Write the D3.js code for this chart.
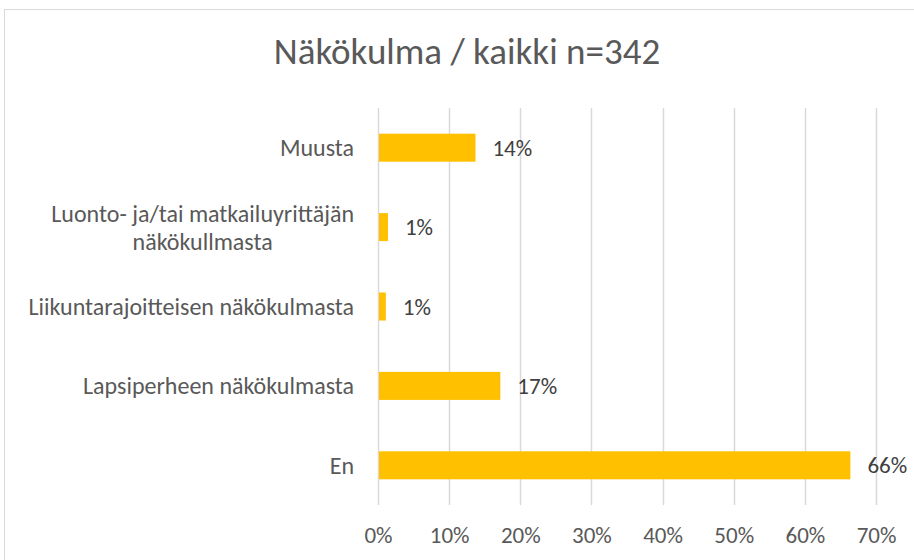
<!DOCTYPE html>
<html>
<head>
<meta charset="utf-8">
<script src="https://cdn.jsdelivr.net/npm/d3@7"></script>
<style>
  body { margin: 0; background: #fff; }
  text { font-family: Calibri, Carlito, "Open Sans", sans-serif; }
</style>
</head>
<body>
<div id="chart"></div>
<script>
// data
const categories = [
  ["Muusta"],
  ["Luonto- ja/tai matkailuyrittäjän", "näkökullmasta"],
  ["Liikuntarajoitteisen näkökulmasta"],
  ["Lapsiperheen näkökulmasta"],
  ["En"]
];
const values = [0.137, 0.014, 0.011, 0.172, 0.664];
const valueLabels = ["14%", "1%", "1%", "17%", "66%"];
const xTicks = [0, 0.1, 0.2, 0.3, 0.4, 0.5, 0.6, 0.7];
const title = "Näkökulma / kaikki n=342";

const width = 914, height = 560;
var margin = {top: 108, left: 378, right: 38, bottom: 55};

const svg = d3.select("#chart").append("svg")
  .attr("width", width)
  .attr("height", height);

// chart frame (cropped at right/bottom)
svg.append("rect")
  .attr("x", 4.5).attr("y", 9.5)
  .attr("width", 1200).attr("height", 1200)
  .attr("fill", "#fff")
  .attr("stroke", "#d9d9d9");

svg.append("text")
  .attr("x", 467).attr("y", 64)
  .attr("text-anchor", "middle")
  .attr("fill", "#595959")
  .style("font-size", "37px")
  .text(title);

var xScale = d3.scaleLinear()
  .domain([0, 0.7])
  .range([margin.left, width - margin.right]);

var yScale = d3.scaleBand()
  .domain(d3.range(categories.length))
  .range([margin.top, height - margin.bottom])
  .paddingInner(0.647)
  .paddingOuter(0.3235);

// grid
svg.append("g")
  .selectAll("line")
  .data(xTicks)
  .join("line")
    .attr("x1", d => Math.round(xScale(d)) + 0.5)
    .attr("x2", d => Math.round(xScale(d)) + 0.5)
    .attr("y1", margin.top)
    .attr("y2", height - margin.bottom)
    .attr("stroke", "#d9d9d9")
    .attr("stroke-width", 1.5);

// x axis labels
var xAxis = svg.append("g")
  .attr("transform", `translate(0,${height - margin.bottom})`)
  .call(d3.axisBottom(xScale).tickValues(xTicks).tickFormat(d3.format(".0%")).tickSize(0).tickPadding(22));
xAxis.select(".domain").remove();
xAxis.selectAll("text")
  .attr("fill", "#595959")
  .style("font-size", "23px")
  .style("font-family", "Calibri, Carlito, 'Open Sans', sans-serif");

// bars
svg.append("g")
  .selectAll("rect")
  .data(values)
  .join("rect")
    .attr("x", xScale(0) + 1)
    .attr("y", (d, i) => yScale(i))
    .attr("width", d => xScale(d) - xScale(0) - 1)
    .attr("height", yScale.bandwidth())
    .attr("fill", "#ffc000");

// value labels
svg.append("g")
  .selectAll("text")
  .data(values)
  .join("text")
    .attr("x", d => xScale(d) + 17)
    .attr("y", (d, i) => yScale(i) + yScale.bandwidth() / 2)
    .attr("dy", "0.35em")
    .attr("fill", "#404040")
    .style("font-size", "23px")
    .text((d, i) => valueLabels[i]);

// category labels (multi-line ones centred on each other, block right-aligned)
const labelRight = 354;
const lineH = 28;
var catG = svg.append("g");
categories.forEach(function(lines, i) {
  const cy = yScale(i) + yScale.bandwidth() / 2;
  const t = catG.append("text")
    .attr("fill", "#595959")
    .style("font-size", "24px")
    .attr("text-anchor", "middle");
  lines.forEach(function(line, j) {
    t.append("tspan")
      .attr("x", 0)
      .attr("y", cy + (j - (lines.length - 1) / 2) * lineH)
      .attr("dy", "0.35em")
      .text(line);
  });
  const w = t.node().getBBox().width;
  t.selectAll("tspan").attr("x", labelRight - w / 2);
});
</script>
</body>
</html>
